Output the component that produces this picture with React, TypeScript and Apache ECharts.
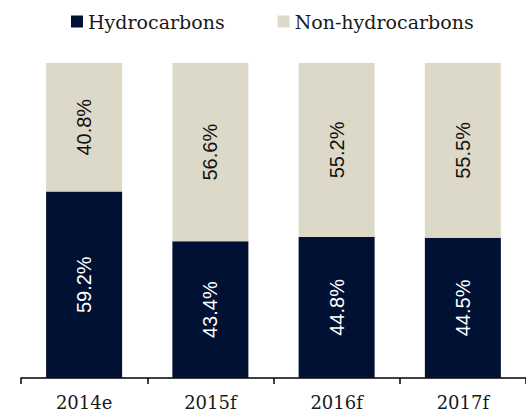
import React, { useEffect, useRef } from "react";
import * as echarts from "echarts";

const categories = ["2014e", "2015f", "2016f", "2017f"];
const hydrocarbons = [59.2, 43.4, 44.8, 44.5];
const nonHydrocarbons = [40.8, 56.6, 55.2, 55.5];

const DARK = "#001133";
const LIGHT = "#DDD9C8";

export default function App() {
  const ref = useRef<HTMLDivElement>(null);
  useEffect(() => {
    if (!ref.current) return;
    const chart = echarts.init(ref.current, undefined, { renderer: "svg" });
    const serif = "'DejaVu Serif', serif";
    const sans = "'Liberation Sans', Arial, sans-serif";
    chart.setOption({
      animation: false,
      backgroundColor: "#ffffff",
      legend: {
        left: 71,
        top: 12,
        padding: 0,
        itemWidth: 12,
        itemHeight: 12,
        itemGap: 53,
        icon: "rect",
        textStyle: { fontFamily: serif, fontSize: 19, color: "#1a1a1a" },
        data: ["Hydrocarbons", "Non-hydrocarbons"],
      },
      grid: { left: 21, right: -4, top: 63, bottom: 40 },
      xAxis: {
        type: "category",
        data: categories,
        axisLine: { show: true, lineStyle: { color: "#000000", width: 1.5 } },
        axisTick: { show: true, length: 6, lineStyle: { color: "#000000", width: 1.5 } },
        axisLabel: { fontFamily: serif, fontSize: 18, color: "#1a1a1a", margin: 15 },
      },
      yAxis: { type: "value", min: 0, max: 100, show: false, splitLine: { show: false } },
      series: [
        {
          name: "Hydrocarbons",
          type: "bar",
          stack: "total",
          barWidth: 76,
          data: hydrocarbons,
          itemStyle: { color: DARK },
          label: {
            show: true,
            position: "inside",
            rotate: 90,
            fontFamily: sans,
            fontSize: 20,
            color: "#ffffff",
            formatter: (p: any) => `${Number(p.value).toFixed(1)}%`,
          },
        },
        {
          name: "Non-hydrocarbons",
          type: "bar",
          stack: "total",
          barWidth: 76,
          data: nonHydrocarbons,
          itemStyle: { color: LIGHT },
          label: {
            show: true,
            position: "inside",
            rotate: 90,
            fontFamily: sans,
            fontSize: 20,
            color: "#111111",
            formatter: (p: any) => `${Number(p.value).toFixed(1)}%`,
          },
        },
      ],
    });
    return () => chart.dispose();
  }, []);
  return (
    <div
      ref={ref}
      style={{ position: "fixed", left: 0, top: 0, width: 526, height: 418, background: "#fff" }}
    />
  );
}
